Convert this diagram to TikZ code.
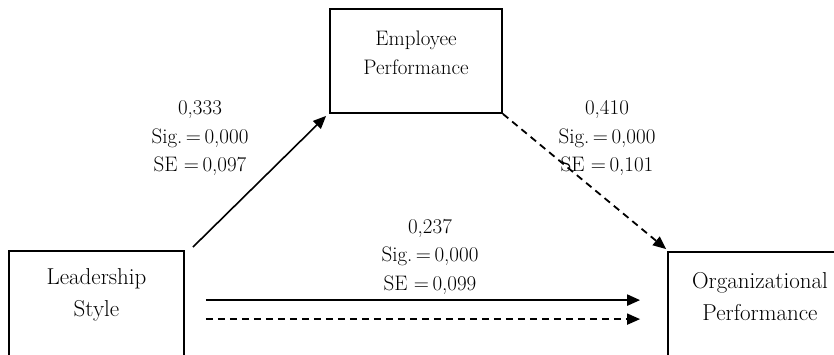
\documentclass[tikz,border=0pt]{standalone}
\usetikzlibrary{arrows.meta,calc}
\begin{document}
\begin{tikzpicture}[x=1pt,y=-1pt,
  box/.style={draw=black,line width=1.8pt,minimum width=#1,inner sep=0pt},
  boxtext/.style={align=center,font=\fontsize{23}{32}\selectfont,inner sep=0pt},
  boxtextsmall/.style={align=center,font=\fontsize{21}{29}\selectfont,inner sep=0pt},
  lab/.style={align=center,font=\fontsize{21}{28.5}\selectfont,inner sep=0pt},
  tip/.style={-{Triangle[length=13pt,width=11pt]}},
  solidarrow/.style={tip,line width=1.6pt},
  hsolid/.style={tip,line width=2.2pt},
  dasharrow/.style={tip,line width=1.8pt,dash pattern=on 7pt off 5pt}
]
\path[use as bounding box,clip] (0,0) rectangle (834,355);

% boxes
\node[box=172pt,minimum height=104pt] (emp) at (416,61) {};
\node[box=175pt,minimum height=129pt] (ls) at (96.5,315.5) {};
\node[box=184pt,minimum height=128pt] (org) at (760,316) {};

% box texts
\node[boxtextsmall] (temp) at (416,52.5) {Employee\\Performance};
\node[boxtext] (tls) at (96.5,294.5) {Leadership\\Style};
\node[boxtext] (torg) at (760,296.5) {Organizational\\Performance};

% connectors
\draw[solidarrow] ([shift={(8,-3)}]ls.north east) -- ([shift={(-3,2)}]emp.south west);
\draw[dasharrow] (emp.south east) -- ([shift={(-1,-2)}]org.north west);

\coordinate (s1) at ([shift={(21,50)}]ls.north east);
\coordinate (e1) at ([shift={(-27,49)}]org.north west);
\coordinate (s2) at ([shift={(21,69)}]ls.north east);
\coordinate (e2) at ([shift={(-27,68)}]org.north west);
\draw[hsolid] (s1) -- (e1);
\draw[dasharrow] (s2) -- (e2);

% labels
\node[lab] (lab1) at (200,138.5) {0,333\\Sig.\,=\,0,000\\SE\hspace{0.3em}=\,0,097};
\node[lab] (lab2) at (607,138.5) {0,410\\Sig.\,=\,0,000\\SE\hspace{0.3em}=\,0,101};
\node[lab] (lab3) at (430,256.5) {0,237\\Sig.\,=\,0,000\\SE\hspace{0.3em}=\,0,099};
\end{tikzpicture}
\end{document}
